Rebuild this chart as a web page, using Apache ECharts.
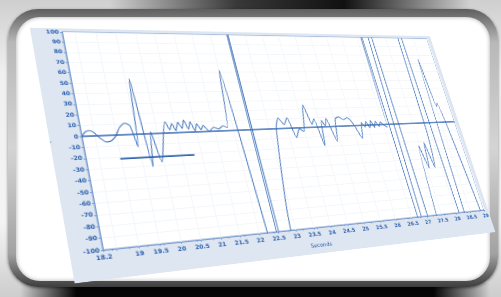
<!DOCTYPE html>
<html>
<head>
<meta charset="utf-8">
<script src="https://cdn.jsdelivr.net/npm/echarts@6/dist/echarts.min.js"></script>
<style>
  html, body { margin: 0; padding: 0; }
  body {
    width: 501px; height: 297px; overflow: hidden; position: relative;
    background: linear-gradient(180deg, #cfcfcf 0%, #f0f0f0 25%, #f4f4f4 75%, #cdcdcd 100%);
  }
  .bandTop {
    position: absolute; left: 110px; top: 0; width: 360px; height: 16px;
    background: linear-gradient(to right, rgba(0,0,0,0) 0%, rgba(30,30,30,.85) 35%, #111 65%, rgba(0,0,0,0) 100%);
  }
  .bandBottom {
    position: absolute; left: 20px; top: 283px; width: 470px; height: 14px;
    background: linear-gradient(to right, rgba(0,0,0,0) 0%, #050505 12%, #050505 88%, rgba(0,0,0,0) 100%);
  }
  .frameOuter {
    position: absolute; left: 8px; top: 9px; width: 490px; height: 278px;
    border-radius: 30px;
    background: linear-gradient(180deg, #5e5e5e 0%, #b8b8b8 12%, #d4d4d4 50%, #a2a2a2 88%, #3e3e3e 100%);
    box-shadow: 0 1px 3px rgba(0,0,0,.5);
  }
  .frameInner {
    position: absolute; left: 16px; top: 17px; width: 474px; height: 264px;
    border-radius: 24px; background: #fff;
    box-shadow: inset 0 0 4px rgba(0,0,0,.35);
  }
  #chart {
    position: absolute; left: 0; top: 0; width: 480px; height: 260px;
    transform-origin: 0 0;
  }
</style>
</head>
<body>
<div class="bandTop"></div>
<div class="bandBottom"></div>
<div class="frameOuter"></div>
<div class="frameInner"></div>
<div id="chart"></div>
<script>
  // waveform (seconds / amplitude)
  var seconds = [18.2, 18.3, 18.4, 18.5, 18.61, 18.74, 18.87, 18.99, 19.12, 19.26, 19.38, 19.47, 19.6, 19.73, 19.85, 19.97,
    20.26, 20.34, 20.42, 20.49, 20.58, 20.66, 20.74, 20.82, 20.9, 20.98, 21.06, 21.14, 21.22, 21.35, 21.48, 21.61, 21.74, 21.85,
    22.01, 22.43, 22.49, 22.58, 22.89, 23.2, 23.33, 23.46, 23.59, 23.72, 23.87, 23.98, 24.16, 24.28, 24.38, 24.49, 24.59,
    24.67, 24.75, 24.9, 25.03, 25.15, 25.28, 25.41, 25.55, 25.71, 25.82, 25.9, 25.97, 26.05, 26.13, 26.2, 26.28, 26.36,
    26.44, 26.5, 26.62, 26.67, 26.74, 26.99, 27.09, 27.47, 27.59, 27.68, 27.79, 27.9, 28.01, 28.18, 28.42, 28.53, 28.59, 28.92];
  var amplitude = [0, 4, 5, 3, -2, -6, -5, -1, 7, 11, 8, -12, 54, -31, 2, -27,
    11, 3, 9, 2, 10, 4, 12, 3, 10, 1, 8, 2, 6, 0, 4, 2, 5, 3,
    62, -300, 300, -300, -86, 0, 11, 4, 11, -10, -1, -4, 24, 3, 9, -20, 7,
    1, 9, -16, 8, 10, 7, 9, 2, -14, 3, -2, 4, -3, 5, -3, 4, -2,
    3, 0, -3, 300, -300, 300, -300, -25, -50, -22, -50, -10, 300, -300, 75, 18, 22, -130];

  // short reference level
  var refSeconds = [18.99, 20.82];
  var refLevel = [-22, -22];

  var xTicks = [18.2, 18.5, 19, 19.5, 20, 20.5, 21, 21.5, 22, 22.5, 23, 23.5, 24, 24.5, 25, 25.5,
    26, 26.5, 27, 27.5, 28, 28.5, 29];

  var blue = '#2d5fae';

  // 4 point homography -> css matrix3d (the picture is a tilted screenshot)
  function homography(src, dst) {
    var A = [], b = [];
    for (var i = 0; i < 4; i++) {
      var x = src[i][0], y = src[i][1], X = dst[i][0], Y = dst[i][1];
      A.push([x, y, 1, 0, 0, 0, -X * x, -X * y]); b.push(X);
      A.push([0, 0, 0, x, y, 1, -Y * x, -Y * y]); b.push(Y);
    }
    var n = 8;
    for (var c = 0; c < n; c++) {
      var p = c;
      for (var r = c + 1; r < n; r++) if (Math.abs(A[r][c]) > Math.abs(A[p][c])) p = r;
      var t = A[c]; A[c] = A[p]; A[p] = t;
      var tb = b[c]; b[c] = b[p]; b[p] = tb;
      for (var r2 = c + 1; r2 < n; r2++) {
        var f = A[r2][c] / A[c][c];
        for (var k = c; k < n; k++) A[r2][k] -= f * A[c][k];
        b[r2] -= f * b[c];
      }
    }
    var h = new Array(n);
    for (var i2 = n - 1; i2 >= 0; i2--) {
      var s = b[i2];
      for (var k2 = i2 + 1; k2 < n; k2++) s -= A[i2][k2] * h[k2];
      h[i2] = s / A[i2][i2];
    }
    return h;
  }

  var W = 480, H = 260, gl = 30, gr = 6, gt = 4, gb = 28;
  var h = homography(
    [[gl, gt], [W - gr, gt], [W - gr, H - gb], [gl, H - gb]],
    [[62, 32], [427, 39], [484, 210], [103, 250]]
  );
  document.getElementById('chart').style.transform =
    'matrix3d(' + [h[0], h[3], 0, h[6], h[1], h[4], 0, h[7], 0, 0, 1, 0, h[2], h[5], 0, 1].join(',') + ')';

  var myChart = echarts.init(document.getElementById('chart'));
  var option = {
    backgroundColor: '#dde6f1',
    animation: false,
    grid: {
      left: gl, right: gr, top: gt, bottom: gb,
      containLabel: false, outerBoundsMode: 'none',
      show: true, backgroundColor: '#ffffff', borderColor: '#7d9fd0', borderWidth: 1
    },
    xAxis: {
      type: 'value', min: 18.2, max: 29,
      name: 'Seconds', nameLocation: 'middle', nameGap: 16,
      nameTextStyle: { fontSize: 6, color: blue, fontFamily: 'DejaVu Sans' },
      axisLine: { show: true, onZero: false, lineStyle: { color: '#7d9fd0' } },
      axisTick: { show: true, customValues: xTicks, length: 2, lineStyle: { color: '#7d9fd0' } },
      minorTick: { show: true, splitNumber: 5, length: 1.5, lineStyle: { color: '#6f8fc4' } },
      axisLabel: {
        customValues: xTicks, showMinLabel: true, showMaxLabel: true, hideOverlap: false,
        fontSize: 6, fontWeight: 'bold', color: blue, margin: 4, fontFamily: 'DejaVu Sans'
      },
      splitLine: { show: true, lineStyle: { color: '#f3f6fa' } }
    },
    yAxis: {
      type: 'value', min: -100, max: 100, interval: 10,
      name: 'Amplitude', nameLocation: 'middle', nameGap: 22,
      nameTextStyle: { fontSize: 6, color: blue, fontFamily: 'DejaVu Sans' },
      axisLine: { show: true, lineStyle: { color: '#7d9fd0' } },
      axisTick: { show: true, length: 2, lineStyle: { color: '#7d9fd0' } },
      axisLabel: { fontSize: 6, fontWeight: 'bold', color: blue, margin: 3, fontFamily: 'DejaVu Sans' },
      splitLine: { show: true, lineStyle: { color: '#f3f6fa' } }
    },
    series: [
      {
        name: 'Amplitude', type: 'line', showSymbol: false, smooth: 0.2,
        data: seconds.map(function (s, i) { return [s, amplitude[i]]; }),
        lineStyle: { color: '#4d7cc0', width: 1.1 },
        markLine: {
          silent: true, symbol: 'none', label: { show: false },
          data: [{ yAxis: 0 }],
          lineStyle: { color: '#3567b2', width: 1.6, type: 'solid' }
        }
      },
      {
        name: 'Level', type: 'line', showSymbol: false,
        data: refSeconds.map(function (s, i) { return [s, refLevel[i]]; }),
        lineStyle: { color: '#2f63ad', width: 1.8 }
      }
    ]
  };
  myChart.setOption(option);
</script>
</body>
</html>
